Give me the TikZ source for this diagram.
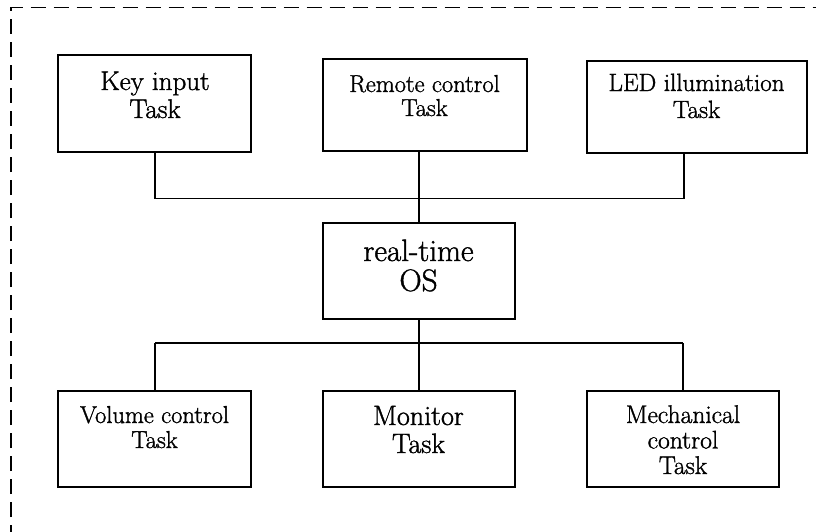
\documentclass[tikz,border=0pt]{standalone}
\usepackage{fontspec}
\newfontfamily\boxfont{Latin Modern Roman}[FakeBold=1.3]
\begin{document}
\begin{tikzpicture}[x=1pt,y=-1pt,
  box/.style={draw,line width=1.3pt,rectangle,inner sep=0pt},
  wire/.style={line width=1.3pt},
  txt/.style={align=center,inner sep=0pt,anchor=base},
  frame/.style={line width=1.7pt,dash pattern=on 15pt off 8pt}]
\useasboundingbox (0,0) rectangle (816,532);
% dashed frame (top and left only visible)
\coordinate (fbl) at (11,540);
\coordinate (ftl) at (11,7.5);
\coordinate (ftr) at (830,7.5);
\draw[frame] (fbl) -- (ftl) -- (ftr);
% boxes
\node[box,minimum width=193pt,minimum height=97pt] (key) at (154.5,103.5) {};
\node[box,minimum width=204pt,minimum height=92pt] (remote) at (425,105) {};
\node[box,minimum width=220pt,minimum height=92pt] (led) at (697,107) {};
\node[box,minimum width=192pt,minimum height=96pt] (os) at (419,271) {};
\node[box,minimum width=193pt,minimum height=96pt] (vol) at (154.5,439) {};
\node[box,minimum width=192pt,minimum height=96pt] (mon) at (419,439) {};
\node[box,minimum width=192pt,minimum height=96pt] (mech) at (683,439) {};
% texts (anchor base = baseline of last line)
\node[txt,font=\boxfont\fontsize{27}{28}\selectfont] (keyt) at (155,118) {Key input\\Task};
\node[txt,font=\boxfont\fontsize{24.5}{24}\selectfont] (remotet) at (424.5,116) {Remote control\\Task};
\node[txt,font=\boxfont\fontsize{25}{27}\selectfont] (ledt) at (696.5,118) {LED illumination\\Task};
\node[txt,font=\boxfont\fontsize{31}{30}\selectfont] (ost) at (418.5,291) {real-time\\OS};
\node[txt,font=\boxfont\fontsize{24.5}{25}\selectfont] (volt) at (154.5,448) {Volume control\\Task};
\node[txt,font=\boxfont\fontsize{28}{28}\selectfont] (mont) at (418.5,453) {Monitor\\Task};
\node[txt,font=\boxfont\fontsize{25.5}{25.5}\selectfont] (mecht) at (683,474) {Mechanical\\control\\Task};
% bus coordinates
\coordinate (tb1) at (155,198.5);
\coordinate (tb2) at (419,198.5);
\coordinate (tb3) at (684,198.5);
\coordinate (bb1) at (155,343);
\coordinate (bb2) at (419,343);
\coordinate (bb3) at (683,343);
% connectors
\draw[wire] (tb1) -- (tb3);
\draw[wire] (key.south -| tb1) -- (tb1);
\draw[wire] (led.south -| tb3) -- (tb3);
\draw[wire] (remote.south -| tb2) -- (os.north -| tb2);
\draw[wire] (bb1) -- (bb3);
\draw[wire] (os.south -| bb2) -- (mon.north -| bb2);
\draw[wire] (bb1) -- (vol.north -| bb1);
\draw[wire] (bb3) -- (mech.north -| bb3);
\end{tikzpicture}
\end{document}
